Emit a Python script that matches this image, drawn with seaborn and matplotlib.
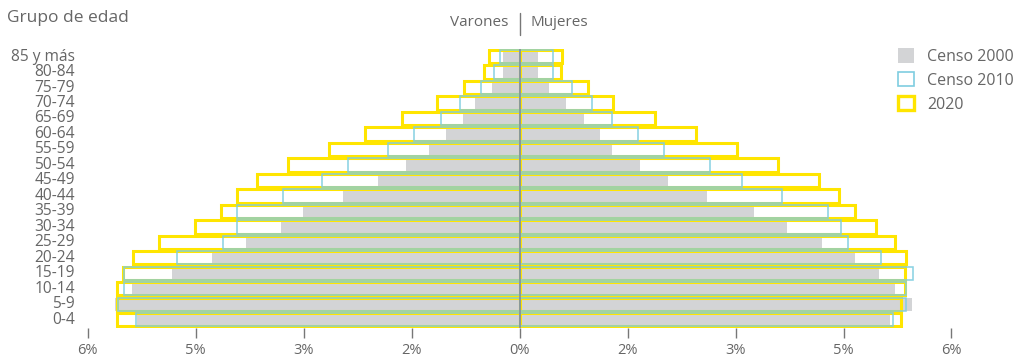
import matplotlib
matplotlib.use("Agg")
import matplotlib.pyplot as plt
from matplotlib.lines import Line2D
from matplotlib.patches import Patch
import pandas as pd
import seaborn as sns

# Age groups, oldest at the top
grupos = ["85 y más", "80-84", "75-79", "70-74", "65-69", "60-64", "55-59",
          "50-54", "45-49", "40-44", "35-39", "30-34", "25-29", "20-24",
          "15-19", "10-14", "5-9", "0-4"]

# Share of population (%) per group
varones_2000 = [0.23, 0.23, 0.38, 0.62, 0.78, 1.02, 1.26, 1.58, 1.97, 2.45,
                3.01, 3.31, 3.80, 4.27, 4.83, 5.38, 5.62, 5.31]
varones_2010 = [0.27, 0.36, 0.54, 0.82, 1.09, 1.46, 1.83, 2.38, 2.74, 3.29,
                3.93, 3.93, 4.12, 4.76, 5.49, 5.49, 5.58, 5.32]
varones_2020 = [0.42, 0.49, 0.77, 1.14, 1.63, 2.14, 2.64, 3.22, 3.64, 3.93,
                4.15, 4.51, 5.01, 5.37, 5.51, 5.59, 5.59, 5.59]
mujeres_2000 = [0.25, 0.25, 0.41, 0.64, 0.89, 1.12, 1.28, 1.67, 2.06, 2.61,
                3.25, 3.72, 4.20, 4.66, 4.99, 5.22, 5.45, 5.14]
mujeres_2010 = [0.46, 0.46, 0.73, 1.00, 1.28, 1.64, 2.01, 2.65, 3.09, 3.65,
                4.29, 4.47, 4.56, 5.02, 5.47, 5.37, 5.37, 5.19]
mujeres_2020 = [0.59, 0.58, 0.95, 1.30, 1.88, 2.45, 3.02, 3.59, 4.16, 4.44,
                4.66, 4.95, 5.22, 5.37, 5.36, 5.36, 5.30, 5.30]

series = ["Censo 2000", "Censo 2010", "2020"]
xticks = [-6, -4.5, -3, -1.5, 0, 1.5, 3, 4.5, 6]
xtick_labels = ["6%", "5%", "3%", "2%", "0%", "2%", "3%", "5%", "6%"]

GREY = "#d3d4d6"
CYAN = "#7fcde0"
YELLOW = "#ffe500"
TEXT = "#666666"

sns.set_theme(style="white")
plt.rcParams["font.family"] = ["Open Sans", "DejaVu Sans"]

rows = []
for serie, men, women in zip(series,
                             [varones_2000, varones_2010, varones_2020],
                             [mujeres_2000, mujeres_2010, mujeres_2020]):
    for g, m, w in zip(grupos, men, women):
        rows.append({"grupo": g, "serie": serie, "sexo": "Varones", "valor": -m})
        rows.append({"grupo": g, "serie": serie, "sexo": "Mujeres", "valor": w})
df = pd.DataFrame(rows)

fig = plt.figure(figsize=(10.26, 3.6), dpi=100)
ax = fig.add_axes([87.5 / 1026, 32.5 / 360, 864 / 1026, 278.7 / 360])

styles = {
    "Censo 2000": dict(facecolor=GREY, edgecolor="none", linewidth=0, zorder=1),
    "Censo 2010": dict(facecolor="none", edgecolor=CYAN, linewidth=1.15,
                       zorder=3, alpha=0.9),
    "2020": dict(facecolor="none", edgecolor=YELLOW, linewidth=2.2, zorder=2),
}

for serie in series:
    for sexo in ["Varones", "Mujeres"]:
        sub = df[(df["serie"] == serie) & (df["sexo"] == sexo)]
        n_before = len(ax.patches)
        sns.barplot(data=sub, x="valor", y="grupo", order=grupos, orient="h",
                    errorbar=None, width=0.86, color=GREY, ax=ax)
        for p in ax.patches[n_before:]:
            p.set(**styles[serie])

ax.axvline(0, color="#8a8a8a", linewidth=1.1, zorder=5)

ax.set_xlim(-6, 6)
ax.set_ylim(len(grupos) - 0.5, -0.5)
ax.set_xticks(xticks)
ax.set_xticklabels(xtick_labels, fontsize=10.5, color=TEXT)
ax.tick_params(axis="x", direction="out", length=7.5, width=1, color="#777777",
               pad=4, bottom=True)
ax.tick_params(axis="y", length=0, pad=9, labelsize=11.2, labelcolor=TEXT)
ax.set_xlabel("")
ax.set_ylabel("")
for s in ax.spines.values():
    s.set_visible(False)
for lbl in ax.get_yticklabels():
    lbl.set_verticalalignment("center")

fig.text(7 / 1026, 1 - 18 / 360, "Grupo de edad", fontsize=12.5, color=TEXT,
         ha="left", va="center")
fig.text(508 / 1026, 1 - 22 / 360, "Varones", fontsize=11, color=TEXT,
         ha="right", va="center")
fig.text(530 / 1026, 1 - 22 / 360, "Mujeres", fontsize=11, color=TEXT,
         ha="left", va="center")
fig.add_artist(Line2D([519.5 / 1026, 519.5 / 1026], [1 - 13 / 360, 1 - 35 / 360],
                      transform=fig.transFigure, color="#777777", linewidth=1))

handles = [
    Patch(facecolor=GREY, edgecolor="none"),
    Patch(facecolor="white", edgecolor=CYAN, linewidth=1.2),
    Patch(facecolor="white", edgecolor=YELLOW, linewidth=2.4),
]
leg = fig.legend(handles, series, loc="upper left",
                 bbox_to_anchor=(892 / 1026, 1 - 42 / 360), frameon=False,
                 fontsize=11.5, handlelength=1.0, handleheight=1.0,
                 handletextpad=0.8, labelspacing=0.45, borderaxespad=0)
for t in leg.get_texts():
    t.set_color(TEXT)

fig.savefig("out.png", dpi=100, facecolor="white")
